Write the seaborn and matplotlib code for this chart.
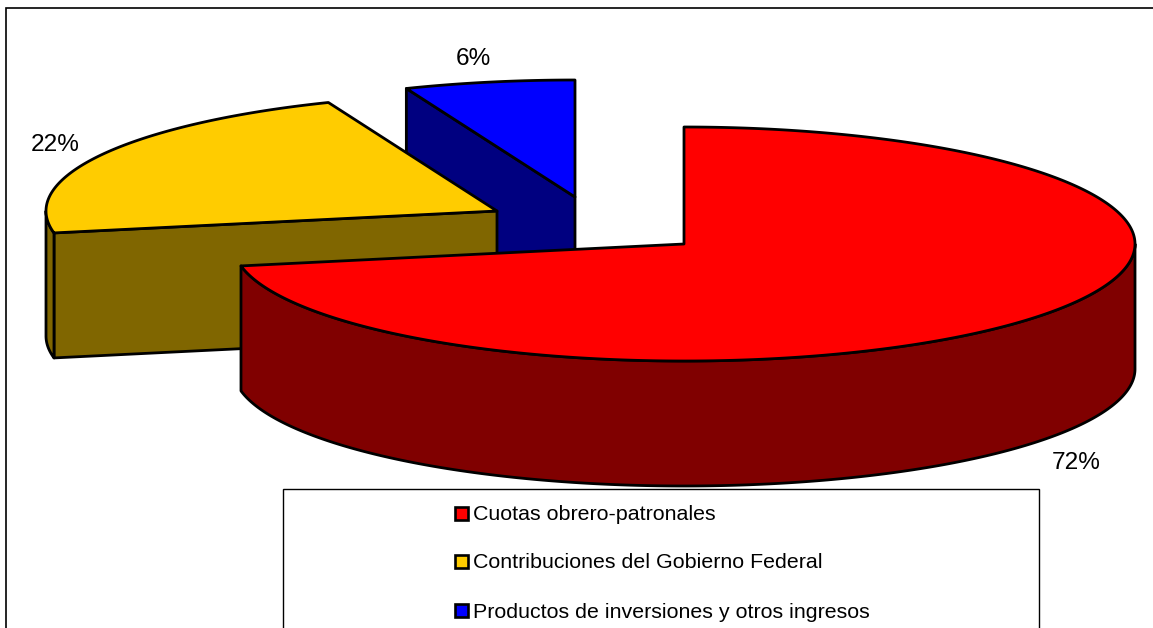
import numpy as np
import matplotlib
matplotlib.use("Agg")
import matplotlib.pyplot as plt
import seaborn as sns
from matplotlib.patches import Polygon, Rectangle

# Data
categories = ["Cuotas obrero-patronales", "Contribuciones del Gobierno Federal",
              "Productos de inversiones y otros ingresos"]
values = [72.0, 21.9, 6.1]
pct_labels = ["72%", "22%", "6%"]

# Style / layout
top_colors = ["#FF0000", "#FFCC00", "#0000FF"]
side_colors = ["#800000", "#806600", "#000080"]
apexes = [(684, 244), (497, 211), (575, 197)]
RX, RY, DEPTH = 451, 117, 125
LW = 2.0
label_pos = [(1076, 463), (55, 145), (473, 59)]
legend_y = [513, 561, 610]

sns.set_theme(style="white")
plt.rcParams["font.family"] = ["Liberation Sans", "DejaVu Sans"]
W, H = 1153, 628
fig = plt.figure(figsize=(W / 100, H / 100), dpi=100, facecolor="white")
ax = fig.add_axes([0, 0, 1, 1])
ax.set_xlim(0, W)
ax.set_ylim(H, 0)
ax.axis("off")


def rim(c, a, b, dy=0):
    """Rim arc of the ellipse between clockwise angles a and b (radians from 12 o'clock)."""
    t = np.linspace(a, b, max(int(abs(b - a) * 120), 2))
    return np.column_stack([c[0] + RX * np.sin(t), c[1] - RY * np.cos(t) + dy])


def poly(pts, fc, z):
    ax.add_patch(Polygon(pts, closed=True, fc=fc, ec="black", lw=LW, joinstyle="round", zorder=z))


# Frame: only the left and top edges show inside the image
ax.plot([6, 6, W], [H + 5, 8, 8], color="black", lw=1.2, zorder=0, solid_joinstyle="miter")

fractions = np.array(values) / np.sum(values)
edges = np.concatenate([[0], np.cumsum(fractions)]) * 2 * np.pi

# back slices first: blue, yellow, red
for i, z in zip([2, 1, 0], [10, 20, 30]):
    c = apexes[i]
    a, b = edges[i], edges[i + 1]
    start = np.array([[c[0] + RX * np.sin(a), c[1] - RY * np.cos(a)]])
    apex = np.array([c], dtype=float)
    down = np.array([0, DEPTH])
    # cut wall on the leading edge, facing the viewer (hidden on the red slice)
    if i != 0:
        poly(np.vstack([apex, start, start + down, apex + down]), side_colors[i], z)
    # outer wall: lower half of the ellipse, pi/2 .. 3pi/2
    lo, hi = max(a, np.pi / 2), min(b, 3 * np.pi / 2)
    if hi > lo:
        arc = rim(c, lo, hi)
        poly(np.vstack([arc, arc[::-1] + down]), side_colors[i], z + 1)
    # top face
    poly(np.vstack([apex, rim(c, a, b)]), top_colors[i], z + 2)

for (x, y), s in zip(label_pos, pct_labels):
    ax.text(x, y, s, fontsize=17.6, ha="center", va="center", color="black", zorder=50)

ax.add_patch(Rectangle((283, 489), 756, 160, fc="white", ec="black", lw=1, zorder=40))
for y, name, col in zip(legend_y, categories, top_colors):
    ax.add_patch(Rectangle((455, y - 6.5), 13, 13, fc=col, ec="black", lw=1.9, zorder=41))
    ax.text(473, y + 2, name, fontsize=15.4, ha="left", va="center", color="black", zorder=41)

fig.savefig("out.png", dpi=100, facecolor="white")
